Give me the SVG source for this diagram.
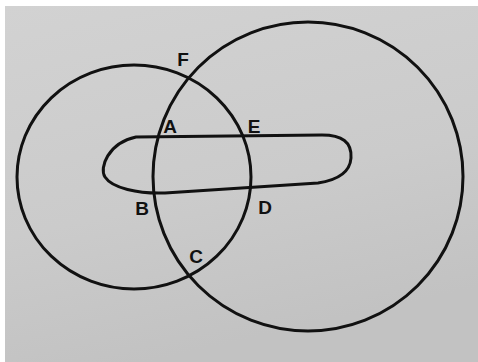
<svg xmlns="http://www.w3.org/2000/svg" width="478" height="362" viewBox="0 0 478 362">
<defs>
<linearGradient id="bg" x1="0" y1="0" x2="0.3" y2="1">
<stop offset="0" stop-color="#d2d2d2"/>
<stop offset="0.6" stop-color="#cbcbcb"/>
<stop offset="1" stop-color="#c2c2c2"/>
</linearGradient>
<style>
.ink{fill:none;stroke:#111;stroke-width:3;stroke-linecap:round;stroke-linejoin:round}
.lbl{font-family:"Liberation Sans",Arial,sans-serif;font-weight:bold;font-size:19px;fill:#111;text-anchor:middle}
</style>
</defs>
<rect x="0" y="0" width="478" height="362" fill="#ffffff"/>
<rect x="5" y="6" width="473" height="356" fill="url(#bg)"/>
<g id="circle-left"><ellipse class="ink" cx="134" cy="177" rx="117" ry="112"/></g>
<g id="circle-right"><ellipse class="ink" cx="308" cy="176.5" rx="155" ry="154.5"/></g>
<g id="oval"><path class="ink" d="M136,137 L322,135 C342,135 352,142 351,158 C350,172 338,180 318,183 L165,193 C138,194 112,188 105,177 C99,168 108,143 136,137 Z"/></g>
<g id="labels">
<text class="lbl" x="183" y="66">F</text>
<text class="lbl" x="170" y="133">A</text>
<text class="lbl" x="254" y="133">E</text>
<text class="lbl" x="142" y="215">B</text>
<text class="lbl" x="265" y="214">D</text>
<text class="lbl" x="196" y="263">C</text>
</g>
</svg>
